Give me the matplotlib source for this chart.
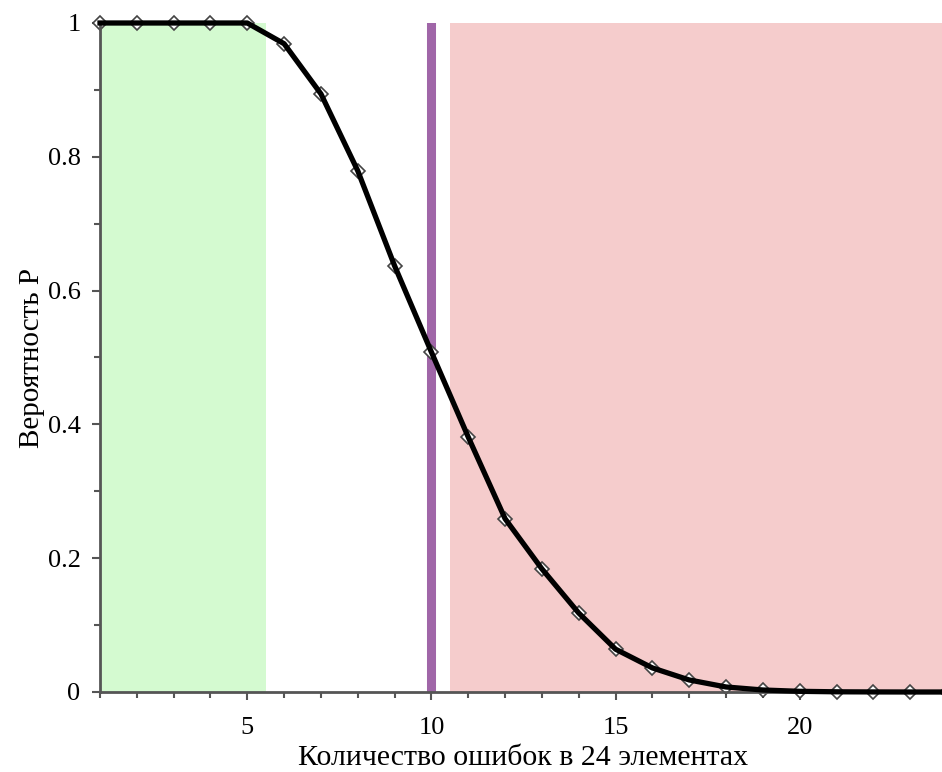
import matplotlib
matplotlib.use("Agg")
import matplotlib.pyplot as plt
from matplotlib.ticker import MultipleLocator

# число ошибок и вероятность
errors = list(range(1, 25))
prob = [1.0, 1.0, 1.0, 1.0, 1.0, 0.969, 0.894, 0.779, 0.637, 0.508,
        0.381, 0.259, 0.184, 0.118, 0.064, 0.036, 0.018, 0.0075, 0.003,
        0.001, 0.0003, 0.0001, 0.0, 0.0]

green_zone = (1, 5.5)
red_zone = (10.5, 24)
threshold = 10

plt.rcParams['font.family'] = ['Liberation Serif', 'DejaVu Serif']

fig = plt.figure(figsize=(9.42, 7.72), dpi=100)
ax = fig.add_axes([100 / 942, 80 / 772, 847 / 942, 669 / 772])

ax.axvspan(*green_zone, color='#d4fad0', lw=0, zorder=0)
ax.axvspan(*red_zone, color='#f5cccc', lw=0, zorder=0)
ax.axvline(threshold, color='#a066a8', lw=6.5, zorder=1)

# маркеры под линией
ax.plot(errors, prob, ls='none', marker='D', markersize=7,
        markerfacecolor='white', markeredgecolor='#444444', markeredgewidth=1.2,
        zorder=2, clip_on=False)
ax.plot(errors, prob, color='black', lw=3.8, zorder=3, clip_on=False)

ax.set_xlim(1, 24)
ax.set_ylim(0, 1)
ax.xaxis.set_major_locator(MultipleLocator(5))
ax.xaxis.set_minor_locator(MultipleLocator(1))
ax.yaxis.set_major_locator(MultipleLocator(0.2))
ax.yaxis.set_minor_locator(MultipleLocator(0.1))
ax.yaxis.set_major_formatter(plt.FuncFormatter(lambda v, p: f"{v:g}"))

for s in ['top', 'right']:
    ax.spines[s].set_visible(False)
for s in ['left', 'bottom']:
    ax.spines[s].set_color('#555555')
    ax.spines[s].set_linewidth(2)
ax.tick_params(which='both', direction='out', color='#555555', width=1.5,
               labelsize=19)
ax.tick_params(axis='x', which='major', length=6, pad=12)
ax.tick_params(axis='y', which='major', length=6, pad=8)
ax.tick_params(which='minor', length=4)

ax.set_xlabel("Количество ошибок в 24 элементах", fontsize=21.5, labelpad=4)
ax.set_ylabel("Вероятность P", fontsize=21, labelpad=2)

fig.savefig("out.png", dpi=100)
